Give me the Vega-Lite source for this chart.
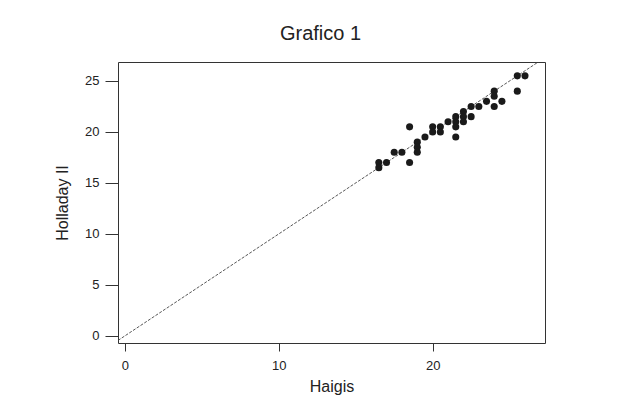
{
  "$schema": "https://vega.github.io/schema/vega-lite/v6.json",
  "width": 427,
  "height": 281,
  "autosize": "none",
  "padding": {"left": 118, "top": 62, "right": 74, "bottom": 69},
  "background": "white",
  "title": {"text": "Grafico 1", "font": "Liberation Sans", "fontSize": 20, "fontWeight": "normal", "color": "#222", "anchor": "middle", "offset": 18, "dx": -11},
  "config": {
    "view": {"stroke": "#333", "strokeWidth": 1},
    "axis": {"grid": false, "domain": false, "tickColor": "#333", "labelFont": "Liberation Sans", "labelFontSize": 13, "labelColor": "#222", "titleFont": "Liberation Sans", "titleFontSize": 16, "titleFontWeight": "normal", "titleColor": "#222"}
  },
  "layer": [
    {
      "data": {"values": [{"x": -0.45, "y": -0.45}, {"x": 27.3, "y": 27.3}]},
      "mark": {"type": "line", "color": "#444", "strokeWidth": 0.9, "strokeDash": [3, 1.5], "clip": true},
      "encoding": {
        "x": {"field": "x", "type": "quantitative"},
        "y": {"field": "y", "type": "quantitative"}
      }
    },
    {
      "data": {"values": [
        {"Haigis": 16.5, "Holladay": 17}, {"Haigis": 16.5, "Holladay": 16.5}, {"Haigis": 17, "Holladay": 17},
        {"Haigis": 17.5, "Holladay": 18}, {"Haigis": 18, "Holladay": 18}, {"Haigis": 18.5, "Holladay": 20.5},
        {"Haigis": 18.5, "Holladay": 17}, {"Haigis": 19, "Holladay": 19}, {"Haigis": 19, "Holladay": 18.5},
        {"Haigis": 19, "Holladay": 18}, {"Haigis": 19.5, "Holladay": 19.5}, {"Haigis": 20, "Holladay": 20.5},
        {"Haigis": 20, "Holladay": 20}, {"Haigis": 20.5, "Holladay": 20.5}, {"Haigis": 20.5, "Holladay": 20},
        {"Haigis": 21, "Holladay": 21}, {"Haigis": 21.5, "Holladay": 21.5}, {"Haigis": 21.5, "Holladay": 21},
        {"Haigis": 21.5, "Holladay": 20.5}, {"Haigis": 21.5, "Holladay": 19.5}, {"Haigis": 22, "Holladay": 22},
        {"Haigis": 22, "Holladay": 21.5}, {"Haigis": 22, "Holladay": 21}, {"Haigis": 22.5, "Holladay": 22.5},
        {"Haigis": 22.5, "Holladay": 21.5}, {"Haigis": 23, "Holladay": 22.5}, {"Haigis": 23.5, "Holladay": 23},
        {"Haigis": 24, "Holladay": 24}, {"Haigis": 24, "Holladay": 23.5}, {"Haigis": 24, "Holladay": 22.5},
        {"Haigis": 24.5, "Holladay": 23}, {"Haigis": 25.5, "Holladay": 25.5}, {"Haigis": 25.5, "Holladay": 24},
        {"Haigis": 26, "Holladay": 25.5}
      ]},
      "mark": {"type": "circle", "size": 50, "color": "#1a1a1a", "opacity": 1},
      "encoding": {
        "x": {"field": "Haigis", "type": "quantitative", "title": "Haigis",
              "scale": {"domain": [-0.45, 27.3], "nice": false, "zero": false},
              "axis": {"values": [0, 10, 20], "tickSize": 8, "labelPadding": 8, "titlePadding": 6}},
        "y": {"field": "Holladay", "type": "quantitative", "title": "Holladay II",
              "scale": {"domain": [-0.7, 26.86], "nice": false, "zero": false},
              "axis": {"values": [0, 5, 10, 15, 20, 25], "tickSize": 13, "labelPadding": 6, "titlePadding": 14}}
      }
    }
  ]
}
